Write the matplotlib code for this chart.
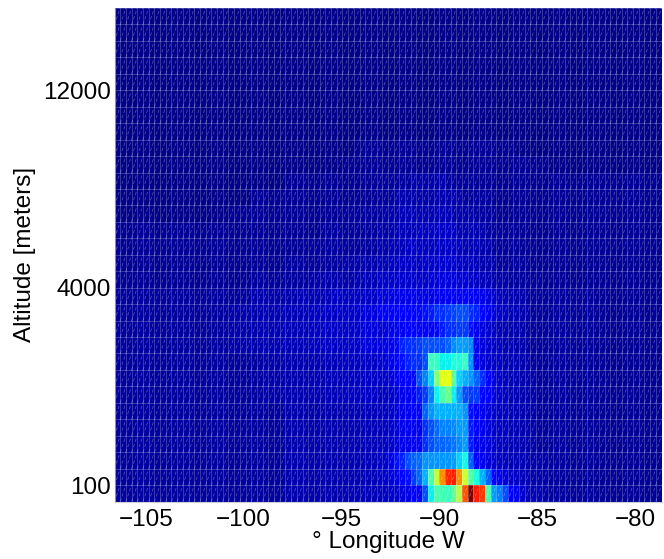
import numpy as np
import matplotlib
matplotlib.use('Agg')
import matplotlib.pyplot as plt
from matplotlib.collections import LineCollection

plt.rcParams['font.family'] = ['Liberation Sans', 'DejaVu Sans']

# tracer intensity, percent of the colour scale, one list per model level (level 0 is the ground)
# every list has one value per longitude cell
low_left = [3]*30 + [4]*10 + [5]*6
mid_left = [3]*26 + [4]*8 + [5]*6 + [6]*6
high_left = [3]*20 + [4]*6 + [5]*8 + [6]*6 + [7]*3 + [8]*3
low_right = [3]*8 + [2]*12

level_00 = low_left + [5,6,7,7,8,9,11,12,20,36,44,43,42,47,57,82,100,88,85,44,28,25,20,12,10,7,5,5,5,4] + low_right
level_01 = low_left + [6,7,8,9,12,14,18,22,30,44,58,76,87,88,76,60,45,38,30,22,12,10,8,7,6,5,5,4,4,4] + low_right
level_02 = low_left + [6,7,9,14,16,20,22,23,27,27,27,27,27,28,33,37,22,11,10,8,7,6,6,5,5,5,4,4,4,4] + low_right
level_03 = low_left + [5,6,7,8,9,9,10,11,17,20,22,22,23,24,26,28,15,10,9,8,7,6,6,5,5,4,4,4,3,3] + low_right
level_04 = low_left + [5,6,7,8,9,10,10,10,17,20,23,25,25,26,28,28,15,12,10,8,7,6,6,5,5,4,4,4,3,3] + low_right
level_05 = low_left + [5,6,7,8,9,10,11,12,22,27,30,30,30,30,30,27,14,12,10,8,7,6,6,5,5,4,4,4,3,3] + low_right
level_06 = mid_left + [5,6,7,8,9,10,12,15,18,25,36,44,48,36,28,20,18,18,13,11,8,7,6,5,5,4,4,4,3,3] + low_right
level_07 = mid_left + [6,7,8,10,12,13,13,20,25,33,50,62,63,46,33,30,27,22,17,11,8,7,6,5,5,4,4,4,3,3] + low_right
level_08 = mid_left + [7,8,10,12,14,16,17,17,20,42,41,36,36,39,38,41,27,10,8,7,6,6,5,5,5,4,4,3,3,3] + low_right
level_09 = high_left + [8,9,10,13,16,17,17,18,20,20,20,20,22,26,28,28,26,10,8,7,6,6,5,5,4,4,3,3,3,3] + low_right
level_10 = high_left + [7,8,9,10,10,11,12,12,12,12,13,15,17,17,18,18,14,10,8,7,6,5,5,4,4,4,3,3,3,3] + low_right
level_11 = high_left + [10,11,12,12,12,12,12,13,14,15,17,17,18,19,20,20,17,16,13,10,8,7,6,5,5,4,4,3,3,3] + low_right
level_12 = [3]*24 + [4]*8 + [5]*6 + [6]*8 + [8,8,9,9,9,9,9,9,9,9,10,10,10,10,11,11,11,10,9,8,7,6,5,5,4,4,3,3,3,3] + low_right
level_13 = [2]*24 + [3]*10 + [4]*8 + [5]*4 + [6,7,7,7,7,7,7,7,7,8,8,8,8,8,8,8,7,6,5,5,4,4,4,3,3,3,3,3,3,2] + [2]*20
level_14 = [2]*30 + [3]*10 + [4]*6 + [5,5,6,6,6,6,6,6,7,7,7,7,7,7,7,6,6,5,4,4,4,3,3,3,3,3,2,2,2,2] + [2]*20
level_15 = [2]*34 + [3]*12 + [4,4,5,5,5,6,6,6,6,6,6,6,6,6,6,5,5,5,4,4,3,3,3,3,3,2,2,2,2,2] + [2]*20
level_16 = [2]*36 + [3]*10 + [4,4,4,5,5,5,5,6,6,6,6,6,6,6,5,5,5,4,4,3,3,3,3,3,2,2,2,2,2,2] + [2]*20
level_17 = [1]*20 + [2]*20 + [3]*6 + [3,4,4,4,5,5,5,5,5,5,5,5,5,4,4,4,4,3,3,3,3,2,2,2,2,2,2,2,2,2] + [2]*20
level_18 = [1]*24 + [2]*22 + [3,3,3,4,4,4,4,4,4,4,4,4,4,4,4,3,3,3,3,3,2,2,2,2,2,2,2,2,2,2] + [2]*20
level_19 = [1]*30 + [2]*16 + [3,3,3,3,3,3,4,4,4,4,4,4,3,3,3,3,3,2,2,2,2,2,2,2,2,2,2,2,2,2] + [2]*20
level_20 = [1]*40 + [2]*36 + [1]*20
level_21 = [1]*42 + [2]*28 + [1]*26
level_22 = [1]*96
level_23 = [1]*96
level_24 = [1]*96
level_25 = [1]*96
level_26 = [1]*96
level_27 = [1]*96
level_28 = [1]*96
level_29 = [1]*96

field = np.array([level_00, level_01, level_02, level_03, level_04, level_05, level_06, level_07,
                  level_08, level_09, level_10, level_11, level_12, level_13, level_14, level_15,
                  level_16, level_17, level_18, level_19, level_20, level_21, level_22, level_23,
                  level_24, level_25, level_26, level_27, level_28, level_29])

lon_ticks = [-105, -100, -95, -90, -85, -80]
level_ticks = [1, 13, 25]
level_labels = ['100', '4000', '12000']

lon_first = -106.6
lon_step = 0.2912
lon_edges = lon_first + lon_step * np.arange(field.shape[1] + 1)
level_edges = np.arange(field.shape[0] + 1)

fig = plt.figure(figsize=(6.64, 5.59), dpi=100)
ax = fig.add_axes([114.5 / 664, 57.5 / 559, 547 / 664, 493.5 / 559])

ax.pcolormesh(lon_edges, level_edges, field, cmap='jet', vmin=0, vmax=100, shading='flat')

# seams of the mesh: cell borders and one dashed diagonal in every cell
seam = (1, 1, 1, 0.24)
ax.vlines(lon_edges, level_edges[0], level_edges[-1], colors=[seam], linewidth=0.65)
ax.hlines(level_edges, lon_edges[0], lon_edges[-1], colors=[seam], linewidth=0.65)
diagonals = []
for i in range(len(lon_edges) - 1):
    for j in range(len(level_edges) - 1):
        diagonals.append([(lon_edges[i], level_edges[j]), (lon_edges[i + 1], level_edges[j + 1])])
ax.add_collection(LineCollection(diagonals, colors=[(1, 1, 1, 0.3)], linewidths=0.6, linestyles=[(0, (4, 2.5))]))

ax.set_xlim(lon_edges[0], lon_edges[-1])
ax.set_ylim(level_edges[0], level_edges[-1])
ax.set_xticks(lon_ticks)
ax.set_yticks(level_ticks)
ax.set_yticklabels(level_labels)
ax.tick_params(length=0, labelsize=17.5, colors='black')
ax.tick_params(axis='x', pad=5.5)
ax.tick_params(axis='y', pad=2.5)
ax.set_xlabel('° Longitude W', fontsize=17.5, labelpad=0)
ax.set_ylabel('Altitude [meters]', fontsize=17.5, labelpad=5)

ax.spines['top'].set_visible(False)
ax.spines['right'].set_visible(False)
ax.spines['left'].set_color('#909090')
ax.spines['bottom'].set_color('#d0d0d0')

fig.savefig('out.png', dpi=100)
